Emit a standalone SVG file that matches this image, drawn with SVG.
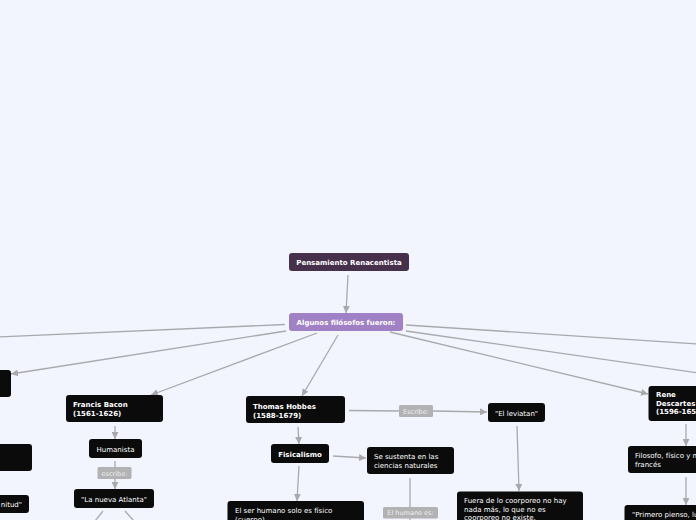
<svg xmlns="http://www.w3.org/2000/svg" width="696" height="520" viewBox="0 0 696 520">
<style>
.bg{fill:#f3f5fe}
.n{fill:#0b0b0c}
.t{font-family:"DejaVu Sans",Verdana,sans-serif;font-size:7px;fill:#ffffff}
.b{font-weight:bold}
.c{stroke:#a9a9ad;stroke-width:1.3;fill:none}
.lb{fill:#b2b2b4}
.lt{font-family:"DejaVu Sans",Verdana,sans-serif;font-size:6.5px;fill:#eeeeee}
</style>
<defs>
<marker id="ah" viewBox="0 0 10 10" refX="10" refY="5" markerWidth="7" markerHeight="7" markerUnits="userSpaceOnUse" orient="auto"><path d="M0,0 L10,5 L0,10 z" fill="#a9a9ad"/></marker>
</defs>
<rect class="bg" x="0" y="0" width="696" height="520"/>
<g id="connectors">
<line class="c" x1="348" y1="275" x2="346" y2="313" marker-end="url(#ah)"/>
<line class="c" x1="285" y1="324.5" x2="-2" y2="337"/>
<line class="c" x1="286" y1="331" x2="11" y2="374" marker-end="url(#ah)"/>
<line class="c" x1="317" y1="333" x2="151" y2="395" marker-end="url(#ah)"/>
<line class="c" x1="338" y1="335" x2="302" y2="396" marker-end="url(#ah)"/>
<line class="c" x1="406" y1="325" x2="698" y2="344"/>
<line class="c" x1="406" y1="331" x2="698" y2="373"/>
<line class="c" x1="390" y1="332" x2="648" y2="394" marker-end="url(#ah)"/>
<line class="c" x1="115" y1="426" x2="115" y2="439" marker-end="url(#ah)"/>
<line class="c" x1="115" y1="461" x2="115" y2="467"/>
<line class="c" x1="115" y1="479" x2="115" y2="489" marker-end="url(#ah)"/>
<line class="c" x1="103" y1="511" x2="95" y2="521"/>
<line class="c" x1="125" y1="511" x2="134" y2="521"/>
<line class="c" x1="349" y1="410.5" x2="399" y2="411"/>
<line class="c" x1="433" y1="411" x2="487" y2="412" marker-end="url(#ah)"/>
<line class="c" x1="517" y1="426" x2="519" y2="491" marker-end="url(#ah)"/>
<line class="c" x1="298" y1="427" x2="299" y2="444" marker-end="url(#ah)"/>
<line class="c" x1="333" y1="456" x2="366" y2="458" marker-end="url(#ah)"/>
<line class="c" x1="299" y1="466" x2="297" y2="501" marker-end="url(#ah)"/>
<line class="c" x1="410" y1="478" x2="410" y2="507"/>
<line class="c" x1="410" y1="518" x2="410" y2="521"/>
<line class="c" x1="686" y1="424" x2="686" y2="446" marker-end="url(#ah)"/>
<line class="c" x1="686" y1="477" x2="686" y2="505" marker-end="url(#ah)"/>
</g>
<g id="root"><rect x="289" y="253" width="120" height="18" rx="3" fill="#46304b"/><text class="t b" x="349" y="264.5" text-anchor="middle">Pensamiento Renacentista</text></g>
<g id="algunos"><rect x="289" y="313" width="114" height="18" rx="3" fill="#a181c6"/><text class="t b" x="346" y="324.5" text-anchor="middle">Algunos filósofos fueron:</text></g>
<g id="left1"><rect x="-10" y="370" width="21" height="27" rx="3" class="n"/></g>
<g id="left2"><rect x="-10" y="444" width="42" height="27" rx="3" class="n"/></g>
<g id="left3"><rect x="-10" y="495" width="39" height="18" rx="3" class="n"/><text class="t" x="22" y="507" text-anchor="end">nitud"</text></g>
<g id="bacon"><rect x="66" y="395" width="97" height="27" rx="3" class="n"/><text class="t b" x="73" y="407">Francis Bacon</text><text class="t b" x="73" y="416">(1561-1626)</text></g>
<g id="humanista"><rect x="89" y="439" width="53" height="19" rx="3" class="n"/><text class="t" x="115.5" y="451.5" text-anchor="middle">Humanista</text></g>
<g id="escribe1"><rect class="lb" x="97.5" y="467" width="34" height="12" rx="1.5"/><text class="lt" x="114.5" y="475.5" text-anchor="middle">escribe:</text></g>
<g id="atlanta"><rect x="74" y="489" width="80" height="19" rx="3" class="n"/><text class="t" x="114" y="501.5" text-anchor="middle">"La nueva Atlanta"</text></g>
<g id="hobbes"><rect x="246" y="396" width="99" height="27" rx="3" class="n"/><text class="t b" x="253" y="408.5">Thomas Hobbes</text><text class="t b" x="253" y="417.5">(1588-1679)</text></g>
<g id="escribe2"><rect class="lb" x="399" y="405" width="34" height="12" rx="1.5"/><text class="lt" x="416" y="413.5" text-anchor="middle">Escribe:</text></g>
<g id="leviatan"><rect x="488" y="403" width="57" height="19" rx="3" class="n"/><text class="t" x="516.5" y="415.5" text-anchor="middle">"El leviatan"</text></g>
<g id="fuera"><rect x="457" y="491.5" width="126" height="40" rx="3" class="n"/><text class="t" x="464" y="503">Fuera de lo coorporeo no hay</text><text class="t" x="464" y="511.5">nada más, lo que no es</text><text class="t" x="464" y="520">coorporeo no existe.</text></g>
<g id="fisicalismo"><rect x="271" y="444" width="58" height="19" rx="3" class="n"/><text class="t b" x="300" y="456.5" text-anchor="middle">Fisicalismo</text></g>
<g id="sustenta"><rect x="367" y="447" width="87" height="27" rx="3" class="n"/><text class="t" x="374" y="459">Se sustenta en las</text><text class="t" x="374" y="467.5">ciencias naturales</text></g>
<g id="serhumano"><rect x="227.5" y="501" width="136.5" height="30" rx="3" class="n"/><text class="t" x="235" y="513">El ser humano solo es físico</text><text class="t" x="235" y="521.5">(cuerpo)</text></g>
<g id="humanoes"><rect class="lb" x="383" y="507" width="55" height="11.5" rx="1.5"/><text class="lt" x="410.5" y="515" text-anchor="middle">El humano es:</text></g>
<g id="descartes"><rect x="648.5" y="386" width="60" height="35" rx="3" class="n"/><text class="t b" x="656" y="397">Rene</text><text class="t b" x="656" y="405.5">Descartes</text><text class="t b" x="656" y="414">(1596-1650)</text></g>
<g id="filosofo"><rect x="628" y="446" width="80" height="27" rx="3" class="n"/><text class="t" x="635" y="458">Filosofo, físico y matemático</text><text class="t" x="635" y="466.5">francés</text></g>
<g id="primero"><rect x="624.5" y="505" width="90" height="25" rx="3" class="n"/><text class="t" x="632" y="517">"Primero pienso, luego existo"</text></g>
</svg>
